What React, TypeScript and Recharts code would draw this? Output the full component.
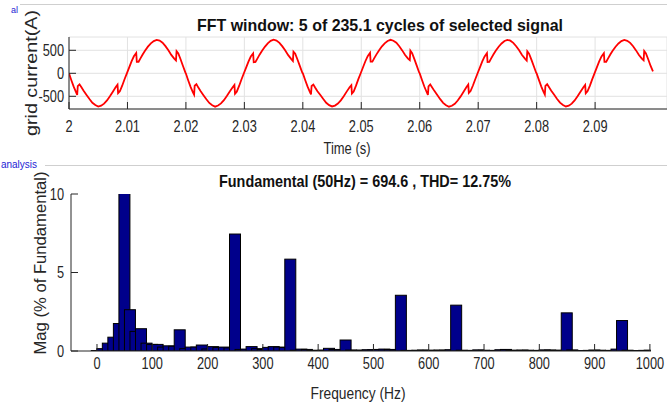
import { LineChart, Line, BarChart, Bar, XAxis, YAxis, CartesianGrid } from "recharts";

const FONT = "'Liberation Sans', Arial, sans-serif";
const AXIS_COLOR = "#262626";

// top panel: grid current over the FFT window
const TIME_TICKS = [2, 2.01, 2.02, 2.03, 2.04, 2.05, 2.06, 2.07, 2.08, 2.09];
const CURRENT_TICKS = [-500, 0, 500];

// [time (s), current (A)], one cycle per list
const CYCLE_1: [number, number][] = [
  [2.0, 0], [2.0004, -150], [2.0008, -290], [2.0012, -410], [2.0014, -470], [2.0015, -280],
  [2.0018, -240], [2.0021, -300], [2.0025, -380], [2.003, -470], [2.0035, -560], [2.004, -640],
  [2.0045, -690], [2.005, -722], [2.0055, -705], [2.006, -660], [2.0065, -590], [2.007, -500],
  [2.0075, -400], [2.008, -300], [2.0083, -250], [2.0084, -430], [2.0087, -390], [2.0091, -270],
  [2.0095, -130], [2.0099, 0], [2.0103, 130], [2.0107, 260], [2.0111, 370], [2.0115, 440],
  [2.0116, 250], [2.0119, 250], [2.0122, 320], [2.0126, 410], [2.013, 490], [2.0135, 580],
  [2.014, 650], [2.0145, 700], [2.015, 726], [2.0155, 710], [2.016, 665], [2.0165, 590],
  [2.017, 500], [2.0175, 400], [2.018, 320], [2.0183, 280], [2.0184, 480], [2.0187, 430],
  [2.0191, 300], [2.0195, 160], [2.0199, 20],
];
const CYCLE_2: [number, number][] = [
  [2.02, -5], [2.0204, -155], [2.0208, -295], [2.0212, -415], [2.0214, -465], [2.0215, -270],
  [2.0218, -235], [2.0221, -305], [2.0225, -385], [2.023, -475], [2.0235, -565], [2.024, -645],
  [2.0245, -695], [2.025, -725], [2.0255, -700], [2.026, -655], [2.0265, -585], [2.027, -495],
  [2.0275, -395], [2.028, -305], [2.0283, -255], [2.0284, -445], [2.0287, -400], [2.0291, -275],
  [2.0295, -135], [2.0299, -5], [2.0303, 125], [2.0307, 255], [2.0311, 365], [2.0315, 430],
  [2.0316, 240], [2.0319, 245], [2.0322, 315], [2.0326, 405], [2.033, 485], [2.0335, 575],
  [2.034, 650], [2.0345, 705], [2.035, 730], [2.0355, 712], [2.036, 662], [2.0365, 585],
  [2.037, 495], [2.0375, 395], [2.038, 315], [2.0383, 270], [2.0384, 470], [2.0387, 425],
  [2.0391, 295], [2.0395, 155], [2.0399, 15],
];
const CYCLE_3: [number, number][] = [
  [2.04, 0], [2.0404, -145], [2.0408, -285], [2.0412, -405], [2.0414, -460], [2.0415, -275],
  [2.0418, -245], [2.0421, -310], [2.0425, -390], [2.043, -470], [2.0435, -560], [2.044, -640],
  [2.0445, -692], [2.045, -720], [2.0455, -702], [2.046, -658], [2.0465, -588], [2.047, -498],
  [2.0475, -398], [2.048, -302], [2.0483, -260], [2.0484, -440], [2.0487, -395], [2.0491, -268],
  [2.0495, -128], [2.0499, 2], [2.0503, 132], [2.0507, 262], [2.0511, 372], [2.0515, 445],
  [2.0516, 255], [2.0519, 255], [2.0522, 325], [2.0526, 412], [2.053, 492], [2.0535, 582],
  [2.054, 652], [2.0545, 702], [2.055, 728], [2.0555, 708], [2.056, 664], [2.0565, 588],
  [2.057, 498], [2.0575, 398], [2.058, 318], [2.0583, 285], [2.0584, 490], [2.0587, 435],
  [2.0591, 302], [2.0595, 162], [2.0599, 18],
];
const CYCLE_4: [number, number][] = [
  [2.06, -2], [2.0604, -152], [2.0608, -292], [2.0612, -412], [2.0614, -468], [2.0615, -285],
  [2.0618, -242], [2.0621, -302], [2.0625, -382], [2.063, -472], [2.0635, -562], [2.064, -642],
  [2.0645, -694], [2.065, -726], [2.0655, -706], [2.066, -662], [2.0665, -592], [2.067, -502],
  [2.0675, -402], [2.068, -298], [2.0683, -245], [2.0684, -425], [2.0687, -385], [2.0691, -265],
  [2.0695, -128], [2.0699, 2], [2.0703, 128], [2.0707, 258], [2.0711, 368], [2.0715, 438],
  [2.0716, 245], [2.0719, 248], [2.0722, 318], [2.0726, 408], [2.073, 488], [2.0735, 578],
  [2.074, 648], [2.0745, 702], [2.075, 727], [2.0755, 709], [2.076, 663], [2.0765, 589],
  [2.077, 499], [2.0775, 399], [2.078, 319], [2.0783, 278], [2.0784, 478], [2.0787, 428],
  [2.0791, 298], [2.0795, 158], [2.0799, 18],
];
const CYCLE_5: [number, number][] = [
  [2.08, -3], [2.0804, -148], [2.0808, -288], [2.0812, -408], [2.0814, -462], [2.0815, -275],
  [2.0818, -238], [2.0821, -298], [2.0825, -378], [2.083, -468], [2.0835, -558], [2.084, -638],
  [2.0845, -690], [2.085, -721], [2.0855, -703], [2.086, -659], [2.0865, -589], [2.087, -499],
  [2.0875, -399], [2.088, -301], [2.0883, -252], [2.0884, -435], [2.0887, -392], [2.0891, -272],
  [2.0895, -132], [2.0899, -2], [2.0903, 128], [2.0907, 258], [2.0911, 368], [2.0915, 436],
  [2.0916, 248], [2.0919, 250], [2.0922, 318], [2.0926, 408], [2.093, 488], [2.0935, 578],
  [2.094, 648], [2.0945, 700], [2.095, 724], [2.0955, 707], [2.096, 662], [2.0965, 588],
  [2.097, 498], [2.0975, 398], [2.098, 318], [2.0983, 282], [2.0984, 485], [2.0987, 432],
  [2.0991, 300], [2.0995, 160], [2.0999, 40],
];

// bottom panel: harmonic spectrum, 10 Hz resolution
const FREQ_TICKS = [0, 100, 200, 300, 400, 500, 600, 700, 800, 900, 1000];
const MAG_TICKS = [0, 5, 10];
const FREQUENCIES = [
  0, 10, 20, 30, 40, 50, 60, 70, 80, 90, 100, 110, 120, 130, 140, 150, 160, 170, 180, 190,
  200, 210, 220, 230, 240, 250, 260, 270, 280, 290, 300, 310, 320, 330, 340, 350, 360, 370, 380, 390,
  400, 410, 420, 430, 440, 450, 460, 470, 480, 490, 500, 510, 520, 530, 540, 550, 560, 570, 580, 590,
  600, 610, 620, 630, 640, 650, 660, 670, 680, 690, 700, 710, 720, 730, 740, 750, 760, 770, 780, 790,
  800, 810, 820, 830, 840, 850, 860, 870, 880, 890, 900, 910, 920, 930, 940, 950, 960, 970, 980, 990,
  1000,
];
const MAGNITUDES = [
  0.03, 0.15, 0.5, 0.88, 1.75, 100, 2.63, 1.25, 1.42, 0.5, 0.42, 0.42, 0.25, 0.33, 0.3, 1.35, 0.15, 0.25, 0.25, 0.38,
  0.13, 0.28, 0.22, 0.25, 0.2, 7.45, 0.1, 0.12, 0.28, 0.15, 0.1, 0.23, 0.28, 0.25, 0.22, 5.85, 0.05, 0.12, 0.1, 0.03,
  0.05, 0.05, 0.17, 0.1, 0.08, 0.7, 0.06, 0.05, 0.05, 0.08, 0.08, 0.1, 0.12, 0.1, 0.08, 3.55, 0.04, 0.03, 0.05, 0.06,
  0.05, 0.04, 0.06, 0.05, 0.08, 2.92, 0.05, 0.03, 0.04, 0.07, 0.05, 0.03, 0.04, 0.08, 0.1, 0.05, 0.04, 0.06, 0.05, 0.03,
  0.04, 0.07, 0.06, 0.05, 0.04, 2.43, 0.07, 0.03, 0.02, 0.04, 0.06, 0.05, 0.03, 0.04, 0.12, 1.94, 0.05, 0.03, 0.03, 0.04,
  0.05,
];

const waveData = [...CYCLE_1, ...CYCLE_2, ...CYCLE_3, ...CYCLE_4, ...CYCLE_5].map(([t, i]) => ({ t, i }));
const spectrumData = FREQUENCIES.map((f, idx) => ({ f, m: MAGNITUDES[idx] }));

const BAR_WIDTH = 11;

// bars overlap like matlab's, so draw them wider than the numeric band
function HarmonicBar(props: any) {
  const { x, y, width, height } = props;
  if (x == null || y == null || !height || height <= 0) return null;
  const cx = x + width / 2;
  return (
    <rect
      x={cx - BAR_WIDTH / 2}
      y={y}
      width={BAR_WIDTH}
      height={height}
      fill="#00008b"
      stroke="#000"
      strokeWidth={1}
    />
  );
}

// matlab's tick text is tall and narrow, squeeze it horizontally
function CondensedTick(props: any) {
  const { x, y, payload, orientation, format } = props;
  const label = format ? format(payload.value) : String(payload.value);
  const isLeft = orientation === "left";
  return (
    <text
      transform={`translate(${x},${y}) scale(0.8,1)`}
      textAnchor={isLeft ? "end" : "middle"}
      dy={isLeft ? "0.36em" : "0.71em"}
      fontSize={16}
      fontFamily={FONT}
      fill={AXIS_COLOR}
    >
      {label}
    </text>
  );
}

const formatTime = (v: number) => (v === 2 ? "2" : v.toFixed(2));

export default function App() {
  return (
    <div style={{ position: "absolute", left: 0, top: 0, width: 667, height: 408, background: "#fff", overflow: "hidden" }}>
      <div style={{ position: "absolute", left: 0, top: 0 }}>
        <LineChart width={667} height={160} data={waveData} margin={{ top: 37, right: 0, bottom: 0, left: 0 }}>
          <CartesianGrid stroke="#e2e2e2" />
          <XAxis
            type="number"
            dataKey="t"
            domain={[2, 2.1023]}
            ticks={TIME_TICKS}
            interval={0}
            allowDataOverflow
            height={51}
            tickSize={-7}
            tickMargin={19}
            stroke={AXIS_COLOR}
            tick={(p: any) => <CondensedTick {...p} orientation="bottom" format={formatTime} />}
          />
          <YAxis
            type="number"
            domain={[-776, 789]}
            ticks={CURRENT_TICKS}
            interval={0}
            allowDataOverflow
            width={69}
            tickSize={-7}
            tickMargin={12}
            stroke={AXIS_COLOR}
            tick={(p: any) => <CondensedTick {...p} orientation="left" />}
          />
          <Line type="linear" dataKey="i" stroke="#ff0000" strokeWidth={1.8} dot={false} isAnimationActive={false} />
        </LineChart>
      </div>

      <div style={{ position: "absolute", left: 0, top: 0 }}>
        <BarChart width={667} height={408} data={spectrumData} margin={{ top: 194, right: 16, bottom: 17, left: 0 }}>
          <XAxis
            type="number"
            dataKey="f"
            domain={[-47, 1002]}
            ticks={FREQ_TICKS}
            interval={0}
            allowDataOverflow
            height={40}
            tickSize={-7}
            tickMargin={14}
            stroke={AXIS_COLOR}
            tick={(p: any) => <CondensedTick {...p} orientation="bottom" />}
          />
          <YAxis
            type="number"
            domain={[0, 10]}
            ticks={MAG_TICKS}
            interval={0}
            allowDataOverflow
            width={71}
            tickSize={-7}
            tickMargin={14}
            stroke={AXIS_COLOR}
            tick={(p: any) => <CondensedTick {...p} orientation="left" />}
          />
          <Bar dataKey="m" shape={HarmonicBar} isAnimationActive={false} />
        </BarChart>
      </div>

      <svg width={667} height={408} style={{ position: "absolute", left: 0, top: 0, pointerEvents: "none" }}>
        <line x1={20} y1={4.5} x2={667} y2={4.5} stroke="#cfcfcf" />
        <text x={11} y={13} fontSize={9} fill="#2424d4" fontFamily={FONT}>al</text>
        <line x1={45} y1={165.5} x2={667} y2={165.5} stroke="#cfcfcf" />
        <text x={1} y={168} fontSize={10} fill="#2424d4" fontFamily={FONT}
          textLength={36} lengthAdjust="spacingAndGlyphs">analysis</text>

        <text x={380} y={31} textAnchor="middle" fontSize={17} fontWeight="bold" fontFamily={FONT}
          textLength={366} lengthAdjust="spacingAndGlyphs" fill="#111">
          FFT window: 5 of 235.1 cycles of selected signal
        </text>
        <text x={347} y={154} textAnchor="middle" fontSize={16} fontFamily={FONT}
          textLength={47} lengthAdjust="spacingAndGlyphs" fill={AXIS_COLOR}>
          Time (s)
        </text>
        <text transform="translate(37,73) rotate(-90)" textAnchor="middle" fontSize={17} fontFamily={FONT}
          textLength={126} lengthAdjust="spacingAndGlyphs" fill={AXIS_COLOR}>
          grid current(A)
        </text>

        <text x={365} y={187} textAnchor="middle" fontSize={17} fontWeight="bold" fontFamily={FONT}
          textLength={292} lengthAdjust="spacingAndGlyphs" fill="#111">
          Fundamental (50Hz) = 694.6 , THD= 12.75%
        </text>
        <text x={358} y={399} textAnchor="middle" fontSize={16} fontFamily={FONT}
          textLength={95} lengthAdjust="spacingAndGlyphs" fill={AXIS_COLOR}>
          Frequency (Hz)
        </text>
        <text transform="translate(46,263) rotate(-90)" textAnchor="middle" fontSize={17} fontFamily={FONT}
          textLength={183} lengthAdjust="spacingAndGlyphs" fill={AXIS_COLOR}>
          Mag (% of Fundamental)
        </text>
      </svg>
    </div>
  );
}
